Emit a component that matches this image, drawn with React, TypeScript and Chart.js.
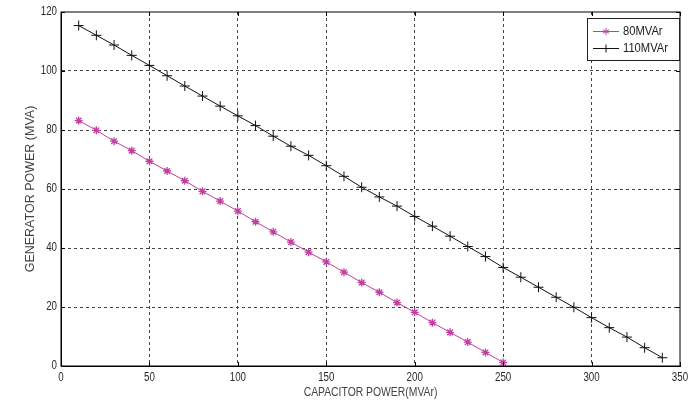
import React, { useEffect, useRef } from "react";
import { Chart, registerables } from "chart.js";

Chart.register(...registerables);

const xPink = [10, 20, 30, 40, 50, 60, 70, 80, 90, 100, 110, 120, 130, 140, 150, 160, 170, 180, 190, 200, 210, 220, 230, 240, 250];
const yPink = [83.2, 79.9, 76.2, 73.0, 69.4, 66.1, 62.8, 59.2, 55.9, 52.5, 48.9, 45.5, 42.0, 38.6, 35.3, 31.8, 28.3, 25.0, 21.5, 18.2, 14.7, 11.4, 8.1, 4.6, 1.2];
const xBlack = [10, 20, 30, 40, 50, 60, 70, 80, 90, 100, 110, 120, 130, 140, 150, 160, 170, 180, 190, 200, 210, 220, 230, 240, 250, 260, 270, 280, 290, 300, 310, 320, 330, 340];
const yBlack = [115.4, 112.1, 108.8, 105.3, 101.9, 98.4, 94.9, 91.5, 88.1, 84.8, 81.5, 77.9, 74.5, 71.4, 67.9, 64.3, 60.6, 57.3, 54.2, 50.7, 47.4, 44.0, 40.5, 37.1, 33.4, 30.1, 26.7, 23.3, 19.9, 16.4, 13.0, 9.8, 6.2, 2.8];
const seriesLabels = ["80MVAr", "110MVAr"];
const xTitle = "CAPACITOR POWER(MVAr)";
const yTitle = "GENERATOR POWER (MVA)";

const FONT = "'Liberation Sans', Arial, sans-serif";
const PINK = "#c03fa0";
const BLACK = "#111111";

function squeezedText(ctx: any, text: string, x: number, y: number, align: string, font: string, color: string, sq: number) {
  ctx.save();
  ctx.font = font;
  ctx.fillStyle = color;
  ctx.textAlign = align;
  ctx.textBaseline = "middle";
  ctx.translate(x, y);
  ctx.scale(sq, 1);
  ctx.fillText(text, 0, 0);
  ctx.restore();
}

const boxPlugin = {
  id: "boxPlugin",
  afterDraw(chart: any) {
    const { ctx, chartArea } = chart;
    const { left, right, top, bottom } = chartArea;
    ctx.save();
    ctx.strokeStyle = "#000";
    ctx.lineWidth = 1;
    ctx.setLineDash([]);
    ctx.strokeRect(left, top, right - left, bottom - top);
    const xs = chart.scales.x;
    const ys = chart.scales.y;
    ctx.beginPath();
    xs.ticks.forEach((t: any) => {
      const px = Math.round(xs.getPixelForValue(t.value)) + 0.5;
      ctx.moveTo(px, bottom);
      ctx.lineTo(px, bottom - 4);
      ctx.moveTo(px, top);
      ctx.lineTo(px, top + 4);
    });
    ys.ticks.forEach((t: any) => {
      const py = Math.round(ys.getPixelForValue(t.value)) + 0.5;
      ctx.moveTo(left, py);
      ctx.lineTo(left + 4, py);
      ctx.moveTo(right, py);
      ctx.lineTo(right - 4, py);
    });
    ctx.stroke();

    // tick labels (horizontally condensed like the reference)
    const tickFont = `12.5px ${FONT}`;
    xs.ticks.forEach((t: any) => {
      const px = xs.getPixelForValue(t.value);
      squeezedText(ctx, String(t.value), px, bottom + 12, "center", tickFont, "#2a2a2a", 0.78);
    });
    ys.ticks.forEach((t: any) => {
      const py = ys.getPixelForValue(t.value);
      squeezedText(ctx, String(t.value), left - 4, py, "right", tickFont, "#2a2a2a", 0.78);
    });
    squeezedText(ctx, xTitle, (left + right) / 2, 393, "center", `12.5px ${FONT}`, "#444", 0.83);

    // legend
    const lx = 587, ly = 18, lw = 92, lh = 42;
    ctx.fillStyle = "#fff";
    ctx.fillRect(lx, ly, lw, lh);
    ctx.strokeStyle = "#222";
    ctx.strokeRect(lx + 0.5, ly + 0.5, lw, lh);
    const rows = [31, 48];
    chart.data.datasets.forEach((ds: any, i: number) => {
      const y = rows[i] + 0.5;
      ctx.strokeStyle = ds.borderColor;
      ctx.lineWidth = 1;
      ctx.beginPath();
      ctx.moveTo(593, y);
      ctx.lineTo(619, y);
      ctx.stroke();
      const cx = 606;
      ctx.beginPath();
      if (ds.pointStyle === "star") {
        const r = 3.5;
        ctx.moveTo(cx, y - r); ctx.lineTo(cx, y + r);
        ctx.moveTo(cx - r * 0.87, y - r * 0.5); ctx.lineTo(cx + r * 0.87, y + r * 0.5);
        ctx.moveTo(cx - r * 0.87, y + r * 0.5); ctx.lineTo(cx + r * 0.87, y - r * 0.5);
      } else {
        ctx.moveTo(cx, y - 4); ctx.lineTo(cx, y + 4);
      }
      ctx.stroke();
      squeezedText(ctx, ds.label, 623, y, "left", `13px ${FONT}`, "#222", 0.86);
    });
    ctx.restore();
  },
};

export default function App() {
  const ref = useRef<HTMLCanvasElement | null>(null);
  useEffect(() => {
    document.body.style.margin = "0";
    const canvas = ref.current!;
    const gridColor = (c: any) =>
      c.index === 0 || c.index === c.chart.scales[c.scale.id].ticks.length - 1 ? "rgba(0,0,0,0)" : "#444";
    const chart = new Chart(canvas, {
      type: "line",
      data: {
        datasets: [
          {
            label: seriesLabels[0],
            data: xPink.map((x, i) => ({ x, y: yPink[i] })),
            borderColor: PINK,
            backgroundColor: PINK,
            borderWidth: 1,
            pointStyle: "star",
            pointRadius: 4,
            pointBorderWidth: 1.3,
            pointBorderColor: PINK,
          },
          {
            label: seriesLabels[1],
            data: xBlack.map((x, i) => ({ x, y: yBlack[i] })),
            borderColor: BLACK,
            backgroundColor: BLACK,
            borderWidth: 1,
            pointStyle: "cross",
            pointRadius: 5,
            pointBorderWidth: 1,
            pointBorderColor: BLACK,
          },
        ],
      },
      options: {
        responsive: false,
        animation: false,
        layout: { padding: { left: 0, right: 8, top: 12, bottom: 0 } },
        plugins: { legend: { display: false }, tooltip: { enabled: false } },
        elements: { line: { tension: 0 } },
        scales: {
          x: {
            type: "linear",
            min: 0,
            max: 350,
            ticks: { stepSize: 50, display: false },
            grid: { color: gridColor, drawTicks: false, lineWidth: 1 },
            border: { display: true, color: "#000", dash: [3, 3] },
            title: { display: false },
            afterFit: (s: any) => { s.height = 36; },
          },
          y: {
            type: "linear",
            min: 0,
            max: 120,
            ticks: { stepSize: 20, display: false },
            grid: { color: gridColor, drawTicks: false, lineWidth: 1 },
            border: { display: true, color: "#000", dash: [3, 3] },
            title: {
              display: true,
              text: yTitle,
              color: "#444",
              font: { family: FONT, size: 12.5 },
              padding: { top: 23, bottom: 0 },
            },
            afterFit: (s: any) => { s.width = 61; },
          },
        },
      } as any,
      plugins: [boxPlugin],
    });
    return () => chart.destroy();
  }, []);
  return <canvas ref={ref} width={688} height={402} style={{ display: "block" }} />;
}
